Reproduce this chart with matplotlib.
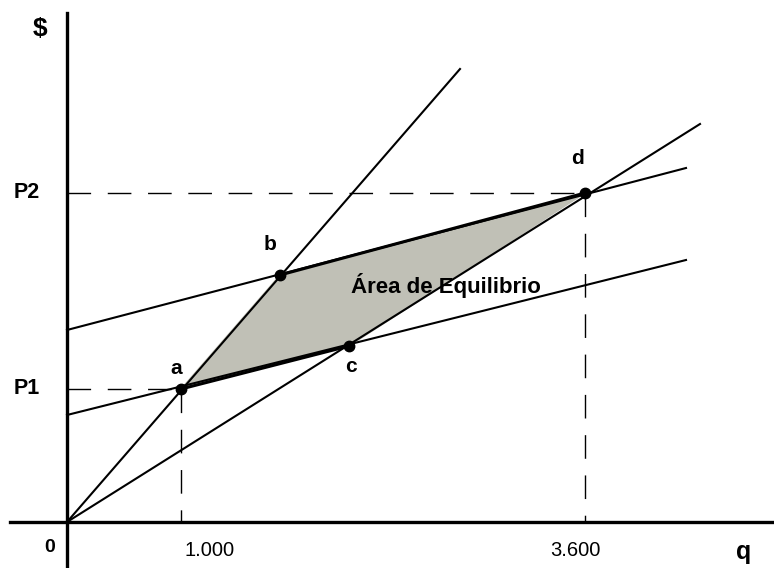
import matplotlib.pyplot as plt

# coordenadas en unidades del gráfico (origen en el cruce de los ejes)
PT_NAMES = ["a", "b", "c", "d"]
PT_X = [114, 213, 282, 518]
PT_Y = [133, 247, 176, 329]

# rectas: (x inicio, y inicio, x fin, y fin)
OFERTA_1 = [0, 0, 393, 453]      # empinada, pasa por a y b
OFERTA_2 = [0, 0, 633, 398]      # pasa por c y d
DEMANDA_1 = [0, 107, 619, 262]   # pasa por a y c
DEMANDA_2 = [0, 192, 619, 354]   # pasa por b y d

P_LABELS = ["P1", "P2"]
Q_LABELS = ["1.000", "3.600"]

FONT = "Liberation Sans"


def main():
    fig = plt.figure(figsize=(7.74, 5.68), dpi=100)
    ax = fig.add_axes([0, 0, 1, 1])
    ax.set_xlim(-67, 707)
    ax.set_ylim(-46, 522)
    ax.axis("off")

    px = dict(zip(PT_NAMES, PT_X))
    py = dict(zip(PT_NAMES, PT_Y))

    # área sombreada a-b-d-c
    poly = ["a", "b", "d", "c"]
    ax.fill([px[k] for k in poly], [py[k] for k in poly],
            color="#c0c0b6", zorder=1)
    ax.plot([px["b"], px["d"]], [py["b"], py["d"]], color="k", lw=2.2, zorder=3)
    ax.plot([px["a"], px["c"]], [py["a"], py["c"]], color="k", lw=2.2, zorder=3)

    # ejes
    ax.plot([-57, 707], [0, 0], color="k", lw=2.4, zorder=4)
    ax.plot([0, 0], [-46, 509], color="k", lw=2.4, zorder=4)

    # rectas
    for ln in (OFERTA_1, OFERTA_2, DEMANDA_1, DEMANDA_2):
        ax.plot([ln[0], ln[2]], [ln[1], ln[3]], color="k", lw=1.5, zorder=2)

    # guías punteadas
    for k in ("a", "d"):
        ax.plot([0, px[k]], [py[k], py[k]], color="k", lw=1,
                dashes=(17, 12), zorder=2)
        ax.plot([px[k], px[k]], [py[k], 0], color="k", lw=1,
                dashes=(17, 12), zorder=2)

    # puntos
    ax.plot(PT_X, PT_Y, "o", color="k", ms=7.5, zorder=5)
    offs = {"a": (-5, 21), "b": (-10, 31), "c": (2, -21), "d": (-7, 34)}
    for k in PT_NAMES:
        ax.text(px[k] + offs[k][0], py[k] + offs[k][1], k, ha="center",
                va="center", fontsize=15, fontweight="bold", family=FONT)

    ax.text(379, 237, "Área de Equilibrio", ha="center", va="center",
            fontsize=16, fontweight="bold", family=FONT, zorder=6)

    # etiquetas de ejes
    for lab, k in zip(P_LABELS, ("a", "d")):
        ax.text(-40, py[k], lab, ha="center", va="center", fontsize=15.5,
                fontweight="bold", family=FONT)
    for lab, k in zip(Q_LABELS, ("a", "d")):
        ax.text(px[k] + 29 if k == "a" else px[k] - 10, -28, lab, ha="center",
                va="center", fontsize=14.5, family=FONT)
    ax.text(-17, -26, "0", ha="center", va="center", fontsize=14,
            fontweight="bold", family=FONT)
    ax.text(-27, 493, "$", ha="center", va="center", fontsize=19,
            fontweight="bold", family=FONT)
    ax.text(677, -30, "q", ha="center", va="center", fontsize=18,
            fontweight="bold", family=FONT)

    fig.savefig("out.png", dpi=100)
    plt.close(fig)


if __name__ == "__main__":
    main()
